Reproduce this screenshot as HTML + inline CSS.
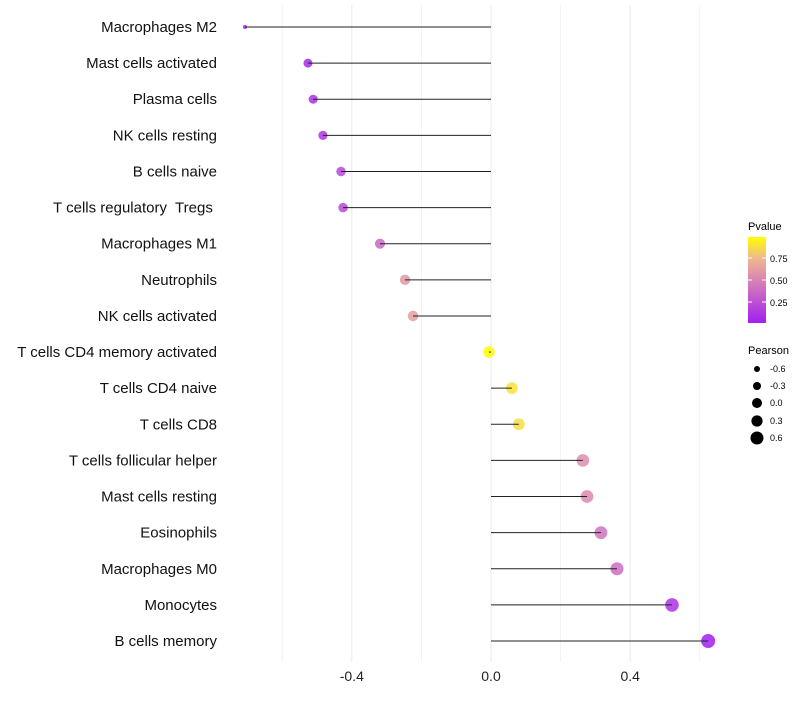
<!DOCTYPE html>
<html><head><meta charset="utf-8"><style>
body{margin:0;background:#fff;font-family:"Liberation Sans",sans-serif}
text{white-space:pre}
</style></head><body>
<svg id="chart" width="800" height="700">
<defs><linearGradient id="pg" x1="0" y1="1" x2="0" y2="0">
<stop offset="0" stop-color="#A020F0"/><stop offset="0.5" stop-color="#D884B4"/><stop offset="0.75" stop-color="#EEB890"/><stop offset="1" stop-color="#FFFF00"/>
</linearGradient></defs>
<g id="grid"></g><g id="dots"></g><g id="marks"></g><g id="labels"></g><g id="ticks"></g>
<g>
<text x="748" y="230" font-size="11" fill="#000">Pvalue</text>
<rect x="748" y="237" width="18" height="86" fill="url(#pg)"/>
<line x1="748" y1="258" x2="752" y2="258" stroke="#fff"/><line x1="762" y1="258" x2="766" y2="258" stroke="#fff"/>
<line x1="748" y1="280" x2="752" y2="280" stroke="#fff"/><line x1="762" y1="280" x2="766" y2="280" stroke="#fff"/>
<line x1="748" y1="302" x2="752" y2="302" stroke="#fff"/><line x1="762" y1="302" x2="766" y2="302" stroke="#fff"/>
<text x="770" y="262" font-size="9" fill="#000">0.75</text>
<text x="770" y="284" font-size="9" fill="#000">0.50</text>
<text x="770" y="306" font-size="9" fill="#000">0.25</text>
</g>
<g>
<text x="748" y="354" font-size="11" fill="#000">Pearson</text>
<circle cx="757" cy="369" r="3" fill="#000"/><text x="770" y="372" font-size="9">-0.6</text>
<circle cx="757" cy="386" r="4" fill="#000"/><text x="770" y="389" font-size="9">-0.3</text>
<circle cx="757" cy="403" r="5" fill="#000"/><text x="770" y="406" font-size="9">0.0</text>
<circle cx="757" cy="421" r="5.6" fill="#000"/><text x="770" y="424" font-size="9">0.3</text>
<circle cx="757" cy="438" r="6.5" fill="#000"/><text x="770" y="441" font-size="9">0.6</text>
</g>
</svg>
<script>
const categories=["Macrophages M2","Mast cells activated","Plasma cells","NK cells resting","B cells naive","T cells regulatory  Tregs ","Macrophages M1","Neutrophils","NK cells activated","T cells CD4 memory activated","T cells CD4 naive","T cells CD8","T cells follicular helper","Mast cells resting","Eosinophils","Macrophages M0","Monocytes","B cells memory"];
const pearson=[-0.707,-0.526,-0.511,-0.483,-0.431,-0.425,-0.319,-0.247,-0.224,-0.006,0.060,0.080,0.264,0.276,0.316,0.362,0.520,0.624];
const pvalues=[0.0,0.05,0.08,0.1,0.2,0.2,0.36,0.6,0.63,1.0,0.9,0.88,0.55,0.53,0.42,0.38,0.1,0.0];
const tickVals=[-0.4,0.0,0.4];
const tickLabels=["-0.4","0.0","0.4"];
const minorVals=[-0.6,-0.2,0.2,0.6];
const NS="http://www.w3.org/2000/svg";
const xs=v=>491+v*348;
const ys=i=>27+i*(614/17);
const rs=v=>v<-0.65?2:Math.sqrt(Math.max(2,33.3+25.2*v));
function lerp(a,b,t){return a.map((x,i)=>Math.round(x+(b[i]-x)*t));}
function col(p){const S=[[0,[160,32,240]],[0.5,[216,132,180]],[0.75,[238,184,144]],[1,[255,255,0]]];
for(let k=0;k<S.length-1;k++){if(p<=S[k+1][0]){const t=(p-S[k][0])/(S[k+1][0]-S[k][0]);return `rgb(${lerp(S[k][1],S[k+1][1],t)})`;}}return "rgb(255,255,0)";}
function mk(tag,attrs,parent){const e=document.createElementNS(NS,tag);for(const k in attrs)e.setAttribute(k,attrs[k]);document.getElementById(parent).appendChild(e);return e;}
[...tickVals,...minorVals].forEach(v=>{const l=mk("line",{x1:xs(v),x2:xs(v),y1:5,y2:662,stroke:"#ebebeb","stroke-width":tickVals.includes(v)?1.1:0.6},"grid");

});
tickVals.forEach((v,i)=>{const t=mk("text",{x:xs(v),y:681,"text-anchor":"middle","font-size":14,fill:"#222"},"ticks");t.textContent=tickLabels[i];

});
categories.forEach((c,i)=>{
const y=ys(i);
const t=mk("text",{x:217,y:y+5,"text-anchor":"end","font-size":15,fill:"#111"},"labels");t.textContent=c;


const d=mk("circle",{cx:xs(pearson[i]),cy:y,r:rs(pearson[i]),fill:col(pvalues[i]),"fill-opacity":0.85},"dots");


const l=mk("line",{x1:xs(0),x2:xs(pearson[i]),y1:y,y2:y,stroke:"#222","stroke-width":1},"marks");


});
</script>
</body></html>
